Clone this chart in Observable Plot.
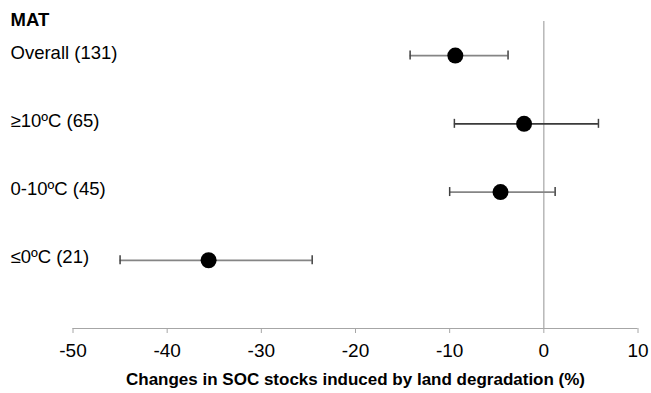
<!DOCTYPE html>
<html>
<head>
<meta charset="utf-8">
<script src="https://cdn.jsdelivr.net/npm/d3@7"></script>
<script src="https://cdn.jsdelivr.net/npm/@observablehq/plot@0.6"></script>
<style>
  html, body { margin: 0; padding: 0; background: #fff; }
  #chart svg { display: block; }
</style>
</head>
<body>
<div id="chart"></div>
<script>
const groupTitle = "MAT";
const categories = ["Overall (131)", "≥10ºC (65)", "0-10ºC (45)", "≤0ºC (21)"];
const means = [-9.4, -2.1, -4.6, -35.6];
const lower = [-14.2, -9.5, -10.0, -45.0];
const upper = [-3.8, 5.8, 1.2, -24.6];
const xTicks = [-50, -40, -30, -20, -10, 0, 10];
const xLabel = "Changes in SOC stocks induced by land degradation (%)";

const n = categories.length;
const table = categories.map((c, i) => ({
  cat: c, pos: n - i, mean: means[i], lo: lower[i], hi: upper[i]
}));

const font = "'Liberation Sans', Arial, sans-serif";
const marginLeft = 72.5, marginRight = 13.5, marginTop = 21, marginBottom = 65;
const cap = 0.066;

const chart = Plot.plot({
  width: 651,
  height: 393,
  marginLeft, marginRight, marginTop, marginBottom,
  style: { fontFamily: font, background: "#fff", color: "#000" },
  x: { domain: [-50, 10] },
  y: { domain: [0, 4.5], axis: null },
  marks: [
    Plot.ruleX([0], { y1: 0, y2: 4.5, stroke: "#a6a6a6", strokeWidth: 1.2 }),
    Plot.ruleY([0], { x1: -50, x2: 10, stroke: "#a6a6a6", strokeWidth: 1.2 }),
    Plot.axisX({
      ticks: xTicks, tickSize: 5, tickPadding: 10, stroke: "#a6a6a6",
      fontSize: 19, fill: "#000", label: null, tickFormat: d => String(d)
    }),
    Plot.ruleY(table, {
      y: "pos", x1: "lo", x2: "hi", strokeWidth: 1.7,
      stroke: (d, i) => i === 1 ? "#3a3a3a" : "#858585"
    }),
    Plot.ruleX(table, { x: "lo", y1: d => d.pos - cap, y2: d => d.pos + cap, stroke: "#404040", strokeWidth: 1.5 }),
    Plot.ruleX(table, { x: "hi", y1: d => d.pos - cap, y2: d => d.pos + cap, stroke: "#404040", strokeWidth: 1.5 }),
    Plot.dot(table, { x: "mean", y: "pos", r: 8, fill: "#000", stroke: "none" }),
    Plot.text(table, {
      y: "pos", text: "cat", frameAnchor: "left", dx: 10 - marginLeft, dy: -3,
      textAnchor: "start", fontSize: 18.5, fill: "#000"
    }),
    Plot.text([groupTitle], {
      frameAnchor: "top-left", dx: 10 - marginLeft, dy: -9, lineAnchor: "top",
      textAnchor: "start", fontSize: 18.5, fontWeight: "bold", fill: "#000"
    }),
    Plot.text([xLabel], {
      frameAnchor: "bottom", dy: 44, lineAnchor: "top",
      fontSize: 17, fontWeight: "bold", fill: "#000"
    })
  ]
});
document.getElementById("chart").appendChild(chart);
</script>
</body>
</html>
